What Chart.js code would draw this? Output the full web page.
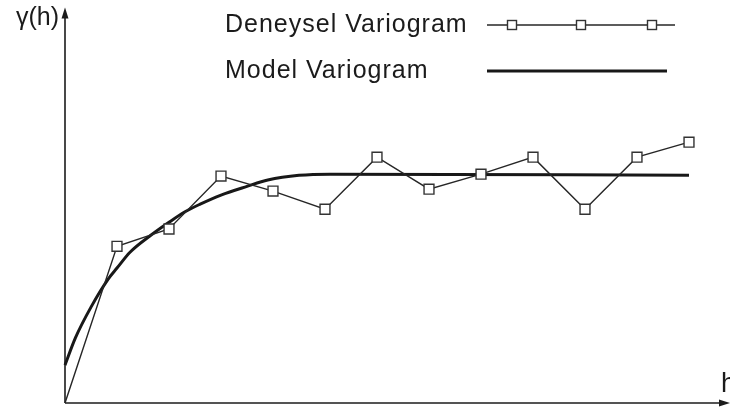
<!DOCTYPE html>
<html>
<head>
<meta charset="utf-8">
<script src="https://cdn.jsdelivr.net/npm/chart.js@4/dist/chart.umd.min.js"></script>
<style>
  html, body { margin: 0; padding: 0; background: #ffffff; }
  #wrap { width: 730px; height: 415px; }
</style>
</head>
<body>
<div id="wrap"><canvas id="c" width="730" height="415"></canvas></div>
<script>
// Lag classes and experimental semivariance values
const lagSteps = [0, 1, 2, 3, 4, 5, 6, 7, 8, 9, 10, 11, 12];
const experimentalGamma = [0, 39.7, 44.1, 57.5, 53.7, 49.1, 62.3, 54.2, 58.0, 62.3, 49.1, 62.3, 66.1];

// Fitted model curve, sampled along the lag axis
const modelLags = [0, 0.2, 0.5, 0.83, 1, 1.25, 1.65, 2, 2.3, 2.6, 3, 3.5, 3.9, 4.5, 5.1, 12];
const modelGamma = [9.6, 16.5, 24.3, 31.4, 34.2, 38.2, 42.5, 45.8, 48.4, 50.4, 52.7, 54.9, 56.5, 57.7, 58.0, 57.7];

const seriesNames = ['Deneysel Variogram', 'Model Variogram'];
const yAxisTitle = 'γ(h)';
const xAxisTitle = 'h';

const INK = '#1b1b1b';
const FONT = '"Liberation Sans", Arial, sans-serif';

const toPoints = (xs, ys) => xs.map((x, i) => ({ x: x, y: ys[i] }));

// Axes with arrowheads, axis titles and the custom legend
const decorations = {
  id: 'decorations',
  beforeDatasetsDraw(chart) {
    const { ctx, chartArea: a } = chart;
    const xEnd = chart.width;
    ctx.save();
    ctx.strokeStyle = INK;
    ctx.fillStyle = INK;
    ctx.lineWidth = 1.6;
    // vertical axis
    ctx.beginPath();
    ctx.moveTo(a.left, a.bottom);
    ctx.lineTo(a.left, a.top + 8);
    ctx.stroke();
    ctx.beginPath();
    ctx.moveTo(a.left, a.top - 1);
    ctx.lineTo(a.left - 3.5, a.top + 10);
    ctx.lineTo(a.left + 3.5, a.top + 10);
    ctx.closePath();
    ctx.fill();
    // horizontal axis
    ctx.beginPath();
    ctx.moveTo(a.left, a.bottom);
    ctx.lineTo(xEnd - 9, a.bottom);
    ctx.stroke();
    ctx.beginPath();
    ctx.moveTo(xEnd, a.bottom);
    ctx.lineTo(xEnd - 11, a.bottom - 3.5);
    ctx.lineTo(xEnd - 11, a.bottom + 3.5);
    ctx.closePath();
    ctx.fill();
    ctx.restore();
  },
  afterDraw(chart) {
    const { ctx, chartArea: a } = chart;
    const ds = chart.data.datasets;
    ctx.save();
    ctx.fillStyle = INK;
    ctx.textBaseline = 'alphabetic';

    // axis titles
    ctx.font = '25px ' + FONT;
    ctx.textAlign = 'right';
    ctx.fillText(yAxisTitle, a.left - 6, a.top + 17);
    ctx.textAlign = 'left';
    ctx.font = '27px ' + FONT;
    ctx.fillText(xAxisTitle, chart.width - 9, a.bottom - 11);

    // legend
    ctx.font = '25px ' + FONT;
    ctx.letterSpacing = '1px';
    const textX = 225;
    const rows = [
      { y: 32, lineY: 25, x0: 487, x1: 675, marks: [512, 581, 652] },
      { y: 78, lineY: 71, x0: 487, x1: 667, marks: [] }
    ];
    rows.forEach((row, i) => {
      const d = ds[i];
      ctx.fillStyle = INK;
      ctx.fillText(seriesNames[i], textX, row.y);
      ctx.strokeStyle = d.borderColor;
      ctx.lineWidth = d.borderWidth;
      ctx.beginPath();
      ctx.moveTo(row.x0, row.lineY);
      ctx.lineTo(row.x1, row.lineY);
      ctx.stroke();
      row.marks.forEach(mx => {
        const s = 9;
        ctx.fillStyle = '#ffffff';
        ctx.fillRect(mx - s / 2, row.lineY - s / 2, s, s);
        ctx.strokeStyle = d.pointBorderColor;
        ctx.lineWidth = d.pointBorderWidth;
        ctx.strokeRect(mx - s / 2, row.lineY - s / 2, s, s);
      });
    });
    ctx.restore();
  }
};

new Chart(document.getElementById('c'), {
  type: 'scatter',
  data: {
    datasets: [
      {
        label: seriesNames[0],
        data: toPoints(lagSteps, experimentalGamma),
        showLine: true,
        borderColor: '#262626',
        borderWidth: 1.4,
        pointStyle: 'rect',
        pointRadius: lagSteps.map(l => (l === 0 ? 0 : 7)),
        pointBackgroundColor: '#ffffff',
        pointBorderColor: '#333333',
        pointBorderWidth: 1.4,
        clip: false
      },
      {
        label: seriesNames[1],
        data: toPoints(modelLags, modelGamma),
        showLine: true,
        borderColor: '#181818',
        borderWidth: 3,
        pointRadius: 0,
        cubicInterpolationMode: 'monotone',
        clip: false
      }
    ]
  },
  options: {
    responsive: false,
    animation: false,
    devicePixelRatio: 1,
    layout: { padding: { left: 65, right: 2, top: 8, bottom: 12 } },
    scales: {
      x: { type: 'linear', min: 0, max: 12, display: false },
      y: { type: 'linear', min: 0, max: 100, display: false }
    },
    plugins: {
      legend: { display: false },
      tooltip: { enabled: false }
    },
    events: []
  },
  plugins: [decorations, {
    id: 'plotWidth',
    // the lag axis runs to 12 at x = 689 px; the arrow continues beyond it
    afterLayout(chart) {
      const a = chart.chartArea;
      a.right = 689;
      a.width = a.right - a.left;
      const xs = chart.scales.x;
      xs.right = a.right;
      xs.width = a.width;
      xs.configure && xs.configure();
    }
  }]
});
</script>
</body>
</html>
